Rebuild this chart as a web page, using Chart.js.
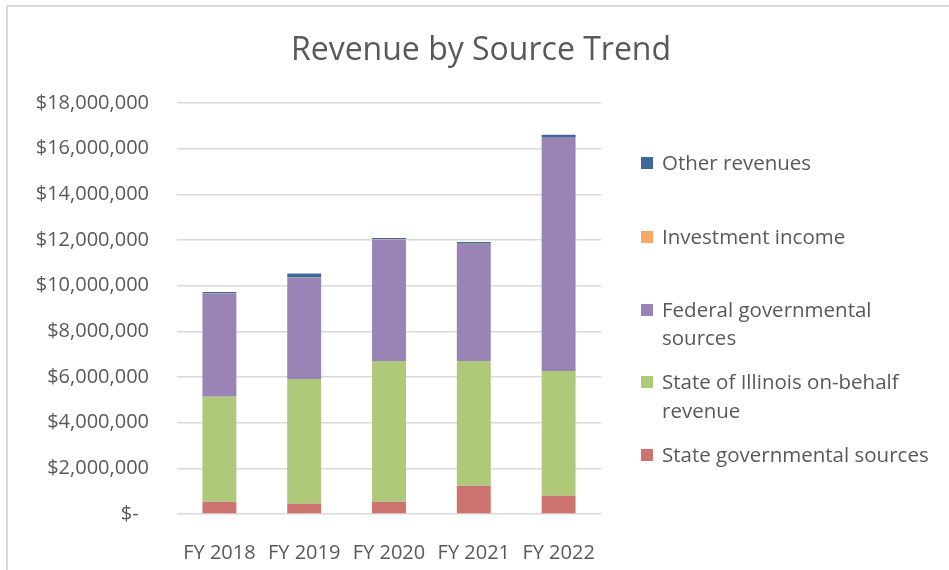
<!DOCTYPE html>
<html>
<head>
<meta charset="utf-8">
<title>Revenue by Source Trend</title>
<script src="https://cdn.jsdelivr.net/npm/chart.js@4.4.1/dist/chart.umd.min.js"></script>
<style>
  html, body { margin: 0; padding: 0; background: #fff; overflow: hidden; }
  #frame {
    position: absolute; left: 6px; top: 5px; width: 1000px; height: 1000px;
    border-left: 2px solid #d9d9d9; border-top: 2px solid #d9d9d9;
  }
  #chart { position: absolute; left: 0; top: 0; }
</style>
</head>
<body>
<div id="frame"></div>
<canvas id="chart" width="949" height="570"></canvas>
<script>
// fiscal years and revenue per source (stacked bottom to top)
const years = ['FY 2018', 'FY 2019', 'FY 2020', 'FY 2021', 'FY 2022'];
const stateGovernmental = [540000, 450000, 540000, 1240000, 800000];
const illinoisOnBehalf = [4600000, 5460000, 6160000, 5460000, 5460000];
const federalGovernmental = [4530000, 4440000, 5310000, 5130000, 10250000];
const investmentIncome = [8000, 12000, 25000, 5000, 6000];
const otherRevenues = [50000, 170000, 50000, 80000, 90000];

const yMax = 18000000;
const yStep = 2000000;

// legend text, split the way it wraps
const seriesNames = [
  ['State governmental sources'],
  ['State of Illinois on-behalf', 'revenue'],
  ['Federal governmental', 'sources'],
  ['Investment income'],
  ['Other revenues']
];
const seriesValues = [stateGovernmental, illinoisOnBehalf, federalGovernmental, investmentIncome, otherRevenues];
const seriesColors = ['#CD7370', '#AFC97A', '#9A84B5', '#F8A866', '#3E689C'];

const textColor = '#595959';
const fontFamily = '"Open Sans", "Noto Sans", sans-serif';

// line centres for the legend entries, top entry first
const legendLineY = [[163], [237], [310, 338], [382, 411], [455]];

const titleAndLegend = {
  id: 'titleAndLegend',
  afterDraw(chart) {
    const ctx = chart.ctx;
    ctx.save();
    ctx.fillStyle = textColor;
    ctx.font = '32px ' + fontFamily;
    ctx.textAlign = 'center';
    ctx.textBaseline = 'alphabetic';
    ctx.fillText('Revenue by Source Trend', 481, 60);

    ctx.font = '20.5px ' + fontFamily;
    ctx.textAlign = 'left';
    ctx.textBaseline = 'middle';
    const ds = chart.data.datasets.slice().reverse();
    ds.forEach((d, i) => {
      const lines = seriesNames[seriesNames.length - 1 - i];
      const ys = legendLineY[i];
      ctx.fillStyle = d.backgroundColor;
      ctx.fillRect(641, ys[0] - 6, 12, 12);
      ctx.fillStyle = textColor;
      lines.forEach((line, j) => ctx.fillText(line, 662, ys[j] + 1));
    });
    ctx.restore();
  }
};

new Chart(document.getElementById('chart'), {
  type: 'bar',
  data: {
    labels: years,
    datasets: seriesValues.map((vals, i) => ({
      label: seriesNames[i].join(' '),
      data: vals,
      backgroundColor: seriesColors[i],
      borderWidth: 0,
      categoryPercentage: 1,
      barPercentage: 0.4
    }))
  },
  options: {
    responsive: false,
    animation: false,
    devicePixelRatio: 1,
    layout: { padding: { top: 103, right: 348, left: 0, bottom: 0 } },
    plugins: {
      legend: { display: false },
      title: { display: false },
      tooltip: { enabled: false }
    },
    scales: {
      x: {
        stacked: true,
        grid: { display: false },
        border: { display: false },
        ticks: {
          color: textColor,
          font: { family: fontFamily, size: 20 },
          padding: 19,
          maxRotation: 0
        },
        afterFit(scale) { scale.height = 56; }
      },
      y: {
        stacked: true,
        min: 0,
        max: yMax,
        grid: { color: '#D9D9D9', lineWidth: 1.5, drawTicks: false },
        border: { display: false },
        ticks: {
          stepSize: yStep,
          color: textColor,
          font: { family: fontFamily, size: 20 },
          padding: 28,
          callback: v => v === 0 ? '$-  ' : '$' + v.toLocaleString('en-US')
        },
        afterFit(scale) { scale.width = 177; }
      }
    }
  },
  plugins: [titleAndLegend]
});
</script>
</body>
</html>
